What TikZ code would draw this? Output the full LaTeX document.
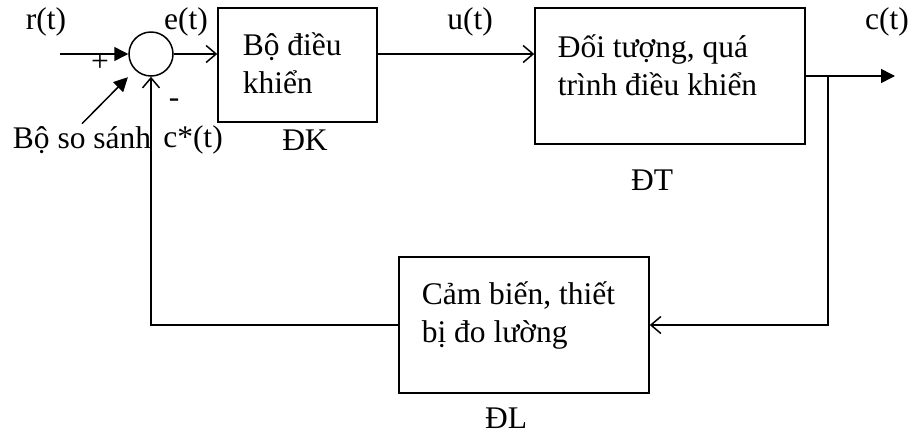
\documentclass[tikz,border=0pt]{standalone}
\usepackage{fontspec}
\setmainfont{Liberation Serif}
\usetikzlibrary{arrows.meta}

\begin{document}
\begin{tikzpicture}[x=1pt, y=-1pt, line width=1.5pt,
    font=\fontsize{31.5}{38}\selectfont,
    khoi/.style={draw, rectangle, inner sep=0pt},
    chu/.style={anchor=base west, align=left, inner sep=0pt},
    mui/.style={-{Straight Barb[length=10pt, width=17pt, line width=1.5pt]}},
    muiden/.style={-{Triangle[length=14pt, width=14pt]}}]
    \useasboundingbox (0,0) rectangle (915,432);

    % Draw comparator and blocks
    \node[draw, circle, minimum size=44pt, inner sep=0pt] (ss) at (151,54) {};
    \node[khoi, minimum width=159pt, minimum height=114pt] (dk) at (297.5,65) {};
    \node[khoi, minimum width=270pt, minimum height=136pt] (dt) at (670,76) {};
    \node[khoi, minimum width=250pt, minimum height=136pt] (dl) at (524,325) {};

    % Text in the blocks (base of the last line)
    \node[chu] (tdk) at (242,93) {Bộ điều\\khiển};
    \node[chu] (tdt) at (557,95) {Đối tượng, quá\\trình điều khiển};
    \node[chu] (tdl) at (421,342) {Cảm biến, thiết\\bị đo lường};

    % Names of the blocks
    \node (ndk) at (305,140) {ĐK};
    \node (ndt) at (652,180) {ĐT};
    \node (ndl) at (506,418) {ĐL};

    % Signals
    \node (r) at (46,22) {r(t)};
    \node (e) at (186,22) {e(t)};
    \node (u) at (470,22) {u(t)};
    \node (c) at (887,22) {c(t)};
    \node (cs) at (193,140) {c*(t)};
    \node (cong) at (100,63) {+};
    \node (tru) at (174,103) {-};
    \node[inner sep=2pt] (lss) at (82,140) {Bộ so sánh};

    % Forward path
    \coordinate (vao) at (60,54);
    \draw[muiden] (vao) -- (ss.west);
    \draw[muiden, shorten >=10pt] (lss.north) -- (ss.225);
    \draw[mui] (ss.east) -- (ss.east -| dk.west);
    \draw[mui] (ss.east -| dk.east) -- (ss.east -| dt.west);
    \coordinate (ra) at (895,76);
    \draw[muiden] (dt.east) -- (ra);

    % Feedback path
    \coordinate (re) at (828,76);
    \draw[mui] (re) |- (dl.east);
    \draw[mui] (dl.west) -| (ss.south);
\end{tikzpicture}
\end{document}
